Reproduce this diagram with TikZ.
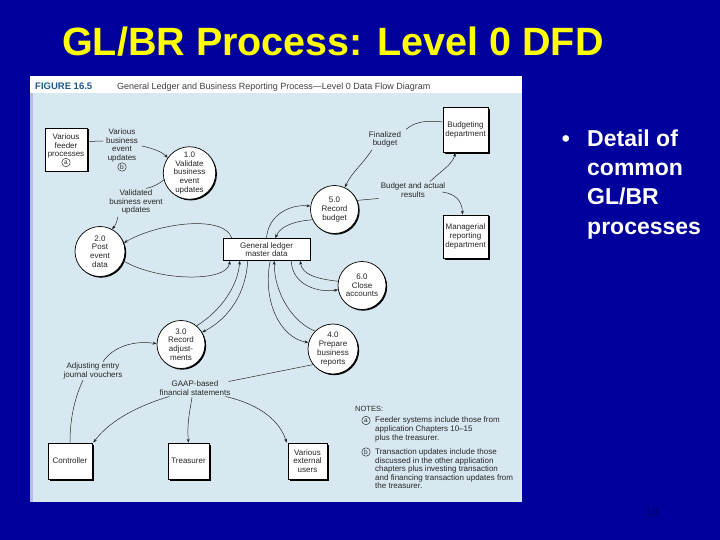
\documentclass[tikz,border=0pt]{standalone}
\usepackage{fontspec}
\setmainfont{Liberation Sans}
\usetikzlibrary{arrows.meta,shadows}
\definecolor{slidebg}{RGB}{0,0,156}
\definecolor{panelblue}{RGB}{216,232,240}
\definecolor{titleyellow}{RGB}{255,255,0}
\definecolor{figteal}{RGB}{30,90,140}
\definecolor{lavend}{RGB}{185,185,235}
\definecolor{pagenum}{RGB}{0,0,110}
\begin{document}
\begin{tikzpicture}[x=1pt,y=-1pt,
  dg/.style={font=\fontsize{8}{8.7}\selectfont, align=center, inner sep=0pt, text=black!85},
  proc/.style={dg, circle, draw=black, line width=0.7pt, fill=white, minimum size=48pt,
     general shadow={fill=black, shadow xshift=1.2pt, shadow yshift=-1.2pt}},
  ent/.style={dg, rectangle, draw=black, line width=0.6pt, fill=white,
     general shadow={fill=black, shadow xshift=1.5pt, shadow yshift=-1.5pt}},
  store/.style={dg, rectangle, draw=black, line width=0.5pt, fill=white},
  flow/.style={draw=black!85, line width=0.5pt, -{Stealth[length=4pt,width=3pt]}},
  plain/.style={draw=black!85, line width=0.5pt},
  lbl/.style={dg},
  circletter/.style={circle, draw=black!85, line width=0.45pt, inner sep=0pt, minimum size=8.5pt, font=\fontsize{6.5}{6.5}\selectfont, text=black!85},
  notetext/.style={font=\fontsize{8}{8.6}\selectfont, align=left, inner sep=0pt, text=black!85, anchor=north west}]
\useasboundingbox (0,0) rectangle (720,540);
\fill[slidebg] (0,0) rectangle (720,540);
% panel
\fill[panelblue] (30,76) rectangle (522,502);
\fill[white] (30,76) rectangle (522,93);
\fill[lavend] (30,93) rectangle (32.5,502);
% title and bullets
\node[anchor=base west, text=titleyellow, font=\fontsize{39.5}{40}\selectfont\bfseries, inner sep=0pt] (title) at (62,56) {GL/BR Process: Level 0 DFD};
\node[anchor=base, text=white, font=\fontsize{23}{23}\selectfont\bfseries, inner sep=0pt] (bul) at (566,147) {•};
\node[anchor=base west, text=white, font=\fontsize{23}{23}\selectfont\bfseries, inner sep=0pt] (b1) at (587,147) {Detail of};
\node[anchor=base west, text=white, font=\fontsize{23}{23}\selectfont\bfseries, inner sep=0pt] (b2) at (587,176) {common};
\node[anchor=base west, text=white, font=\fontsize{23}{23}\selectfont\bfseries, inner sep=0pt] (b3) at (587,205) {GL/BR};
\node[anchor=base west, text=white, font=\fontsize{23}{23}\selectfont\bfseries, inner sep=0pt] (b4) at (587,234) {processes};
\node[text=pagenum, font=\fontsize{12}{12}\selectfont] (pg) at (652,512) {18};
% caption
\node[anchor=base west, font=\fontsize{9.5}{10}\selectfont\bfseries, text=figteal, inner sep=0pt] (figno) at (35,90) {FIGURE 16.5};
\node[anchor=base west, font=\fontsize{9}{10}\selectfont, text=black!75, inner sep=0pt] (figcap) at (117,89.5) {General Ledger and Business Reporting Process—Level 0 Data Flow Diagram};
% entities
\node[ent, minimum width=42pt, minimum height=43pt] (feed) at (66,149.5) {Various\\feeder\\processes\\\phantom{a}};
\node[circletter] (fa) at (66,162.5) {a};
\node[ent, minimum width=45pt, minimum height=45pt] (budg) at (465.5,130) {Budgeting\\department};
\node[ent, minimum width=45pt, minimum height=43pt] (mgr) at (465.5,236.5) {Managerial\\reporting\\department};
\node[ent, minimum width=44pt, minimum height=36pt] (ctrl) at (70,461) {Controller};
\node[ent, minimum width=41pt, minimum height=36pt] (treas) at (188.5,461) {Treasurer};
\node[ent, minimum width=39pt, minimum height=36pt] (ext) at (307.5,461) {Various\\external\\users};
% data store
\node[store, minimum width=87pt, minimum height=22pt] (gl) at (266.5,249.5) {General ledger\\master data};
% processes
\node[proc] (c1) at (189.5,173) {1.0\\Validate\\business\\event\\updates};
\node[proc, minimum size=50pt] (c2) at (100,251.5) {2.0\\Post\\event\\data};
\node[proc] (c3) at (181,344.5) {3.0\\Record\\adjust-\\ments};
\node[proc, minimum size=50pt] (c4) at (333,349) {4.0\\Prepare\\business\\reports};
\node[proc] (c5) at (334.5,209.5) {5.0\\Record\\budget};
\node[proc] (c6) at (362,285.5) {6.0\\Close\\accounts};
% flow labels
\node[lbl] (lab1) at (122,149) {Various\\business\\event\\updates\\\phantom{b}};
\node[circletter] (lb) at (122,167) {b};
\node[lbl] (lab2) at (136,202) {Validated\\business event\\updates};
\node[lbl] (lab3) at (385,139.5) {Finalized\\budget};
\node[lbl] (lab4) at (413,190) {Budget and actual\\results};
\node[lbl] (lab5) at (93,371) {Adjusting entry\\journal vouchers};
\node[lbl] (lab6) at (195,388) {GAAP-based\\financial statements};
% notes
\node[anchor=base west, font=\fontsize{7.5}{8}\selectfont, text=black!85, inner sep=0pt] (notes) at (355,411) {NOTES:};
\node[circletter] (na) at (366,420.5) {a};
\node[notetext] (nta) at (375,417) {Feeder systems include those from\\application Chapters 10–15\\plus the treasurer.};
\node[circletter] (nb) at (366,452) {b};
\node[notetext] (ntb) at (375,448.5) {Transaction updates include those\\discussed in the other application\\chapters plus investing transaction\\and financing transaction updates from\\the treasurer.};
% connectors
\draw[plain] ([yshift=8pt]feed.east) -- ([yshift=8pt,xshift=-3pt]lab1.west);
\draw[flow] ([xshift=4pt,yshift=3pt]lab1.east) .. controls (155,149) and (162,152) .. (c1.145);
\draw[plain] (c1.195) .. controls (160,183) and (154,187) .. ([xshift=10pt,yshift=1pt]lab2.north);
\draw[flow] ([xshift=-18pt,yshift=-2pt]lab2.south) .. controls (117,222) and (115,226) .. (c2.62);
\draw[flow] ([xshift=9pt]gl.north west) .. controls (225,215) and (160,222) .. (c2.20);
\draw[flow] (c2.-22) .. controls (160,282) and (228,282) .. ([xshift=7pt]gl.south west);
\draw[flow] (c3.50) .. controls (222,310) and (238,285) .. ([xshift=17pt]gl.south west);
\draw[flow] ([xshift=25pt]gl.south west) .. controls (246,292) and (230,318) .. (c3.30);
\draw[flow] ([xshift=-40pt]gl.south east) .. controls (262,300) and (280,338) .. (c4.165);
\draw[flow] (c4.135) .. controls (292,322) and (274,292) .. ([xshift=-36pt]gl.south east);
\draw[flow] (c6.170) .. controls (318,279) and (302,275) .. ([xshift=-10pt]gl.south east);
\draw[flow] ([xshift=-19pt]gl.south east) .. controls (292,286) and (320,293) .. (c6.190);
\draw[flow] ([xshift=0pt]gl.north) .. controls (268,215) and (290,204) .. (c5.172);
\draw[flow] (c5.205) .. controls (295,221) and (280,226) .. ([xshift=9pt]gl.north);
\draw[plain] ([yshift=8pt]budg.west) .. controls (425,120) and (415,122) .. ([xshift=5pt,yshift=2pt]lab3.north east);
\draw[flow] ([xshift=-13pt,yshift=-2pt]lab3.south) .. controls (362,165) and (352,172) .. (c5.65);
\draw[plain] (c5.22) -- ([xshift=-2pt,yshift=-1pt]lab4.south west);
\draw[flow] ([xshift=17pt,yshift=1pt]lab4.north) .. controls (442,170) and (452,165) .. ([xshift=-10pt]budg.south);
\draw[flow] ([xshift=-3pt,yshift=-2pt]lab4.east) .. controls (455,194) and (462,200) .. ([xshift=-3pt]mgr.north);
\draw[plain] (ctrl.north) .. controls (70,415) and (76,395) .. ([xshift=-10pt,yshift=-1pt]lab5.south);
\draw[flow] ([xshift=10pt,yshift=1pt]lab5.north) .. controls (112,348) and (132,340) .. (c3.178);
\draw[plain] (c4.218) -- ([xshift=-2pt,yshift=-1pt]lab6.north east);
\draw[flow] ([xshift=10pt,yshift=-1pt]lab6.south west) .. controls (140,405) and (110,420) .. ([xshift=1pt]ctrl.north east);
\draw[flow] ([xshift=-3pt,yshift=-2pt]lab6.south) .. controls (189,415) and (187,425) .. (treas.north);
\draw[flow] ([xshift=-5pt,yshift=-1pt]lab6.south east) .. controls (262,405) and (280,422) .. ([xshift=-1pt]ext.north west);
\end{tikzpicture}
\end{document}
